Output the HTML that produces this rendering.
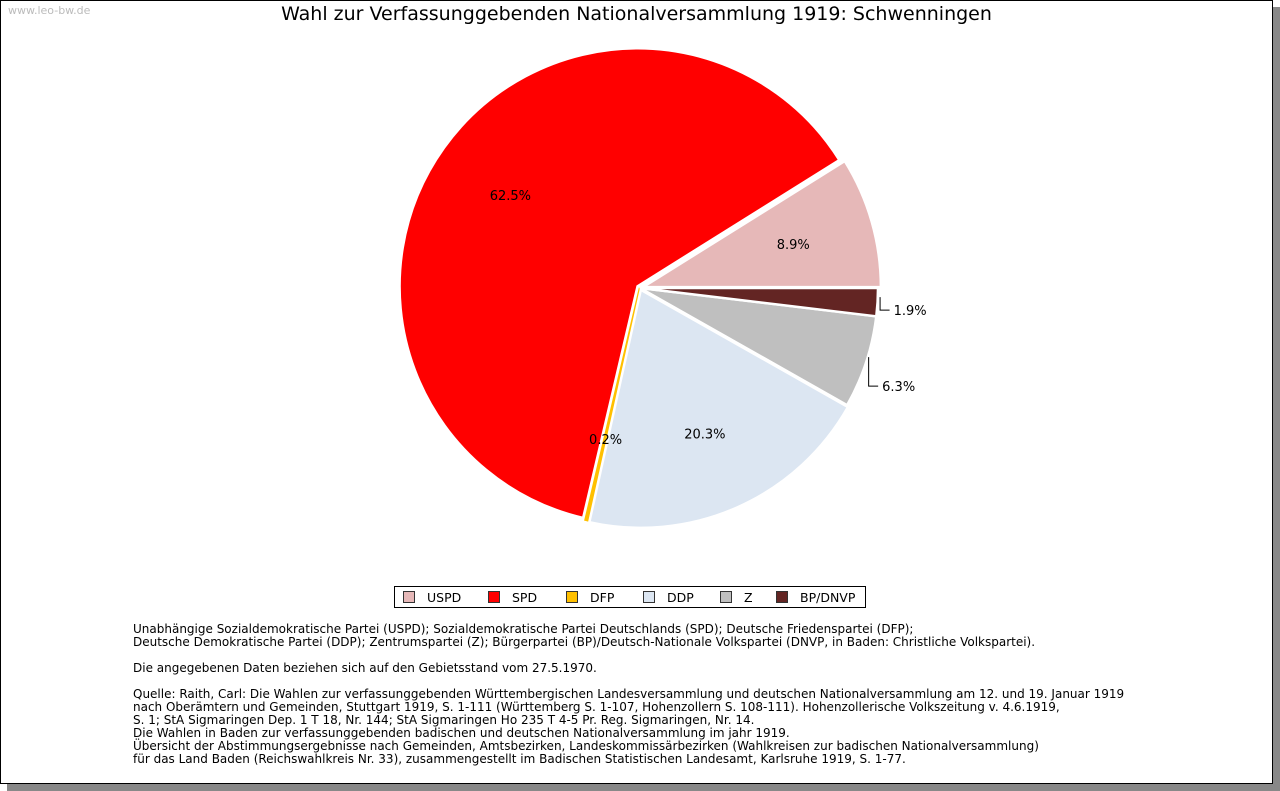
<!DOCTYPE html>
<html><head><meta charset="utf-8"><style>
body{margin:0;width:1280px;height:791px;background:#fff;font-family:"DejaVu Sans","Liberation Sans",sans-serif;position:relative;overflow:hidden}
#frame{position:absolute;left:0;top:0;width:1271px;height:782px;border:1px solid #000;background:#fff;box-shadow:7px 7px 0 #888}
#wm{position:absolute;left:8px;top:4px;font-size:11px;color:#bbb}
#title{position:absolute;left:0;width:1273px;top:3px;text-align:center;font-size:19px;color:#000}
#legend{position:absolute;left:394px;top:586px;width:470px;height:20px;border:1px solid #000;font-size:12.5px}
.li{position:absolute;top:3px;white-space:nowrap}
.sw{display:inline-block;width:10px;height:10px;border:1px solid #333;vertical-align:-1px;margin-right:12px}
#notes{position:absolute;left:133px;top:623px;font-size:12px;line-height:13px;color:#000;white-space:pre}
</style></head><body>
<div id="frame"></div>
<div id="wm">www.leo-bw.de</div>
<div id="title">Wahl zur Verfassunggebenden Nationalversammlung 1919: Schwenningen</div>
<svg id="pie" width="1280" height="791" style="position:absolute;left:0;top:0"></svg>
<div id="legend"></div>
<div id="notes">Unabhängige Sozialdemokratische Partei (USPD); Sozialdemokratische Partei Deutschlands (SPD); Deutsche Friedenspartei (DFP);
Deutsche Demokratische Partei (DDP); Zentrumspartei (Z); Bürgerpartei (BP)/Deutsch-Nationale Volkspartei (DNVP, in Baden: Christliche Volkspartei).

Die angegebenen Daten beziehen sich auf den Gebietsstand vom 27.5.1970.

Quelle: Raith, Carl: Die Wahlen zur verfassunggebenden Württembergischen Landesversammlung und deutschen Nationalversammlung am 12. und 19. Januar 1919
nach Oberämtern und Gemeinden, Stuttgart 1919, S. 1-111 (Württemberg S. 1-107, Hohenzollern S. 108-111). Hohenzollerische Volkszeitung v. 4.6.1919,
S. 1; StA Sigmaringen Dep. 1 T 18, Nr. 144; StA Sigmaringen Ho 235 T 4-5 Pr. Reg. Sigmaringen, Nr. 14.
Die Wahlen in Baden zur verfassunggebenden badischen und deutschen Nationalversammlung im jahr 1919.
Übersicht der Abstimmungsergebnisse nach Gemeinden, Amtsbezirken, Landeskommissärbezirken (Wahlkreisen zur badischen Nationalversammlung)
für das Land Baden (Reichswahlkreis Nr. 33), zusammengestellt im Badischen Statistischen Landesamt, Karlsruhe 1919, S. 1-77.</div>
<script>
const categories=["USPD","SPD","DFP","DDP","Z","BP/DNVP"];
const values=[8.9,62.5,0.2,20.3,6.3,1.9];
const colors=["#e6b8b8","#ff0000","#ffc000","#dce6f2","#bfbfbf","#632523"];
const explode=[3,3,0,2,0,0];
const leaderDrop=[0,0,0,0,24,8];
const svg=document.getElementById('pie');const NS="http://www.w3.org/2000/svg";
const cx=640,cy=288,R=238;
const total=values.reduce((a,b)=>a+b,0);
let a0=0;const labels=[];
values.forEach((v,i)=>{
 const a1=a0+v/total*2*Math.PI;const mid=(a0+a1)/2;
 const ox=cx+explode[i]*Math.cos(mid),oy=cy-explode[i]*Math.sin(mid);
 const x0=ox+R*Math.cos(a0),y0=oy-R*Math.sin(a0),x1=ox+R*Math.cos(a1),y1=oy-R*Math.sin(a1);
 const p=document.createElementNS(NS,'path');
 p.setAttribute('d',`M${ox},${oy}L${x0},${y0}A${R},${R} 0 ${a1-a0>Math.PI?1:0} 0 ${x1},${y1}Z`);
 p.setAttribute('fill',colors[i]);
 if(v>=1){p.setAttribute('stroke','#fff');p.setAttribute('stroke-width','2.5');}
 else{p.setAttribute('stroke',colors[i]);p.setAttribute('stroke-width','2.5');}
 
 
 svg.appendChild(p);
 labels.push({i,mid});
 a0=a1;
});
labels.forEach(({i,mid})=>{
 const t=document.createElementNS(NS,'text');t.setAttribute('font-size','13');t.setAttribute('font-family','DejaVu Sans, sans-serif');
 const lab=values[i].toFixed(1)+'%';
 if(values[i]<7&&values[i]>=1){
  const ex=cx+R*Math.cos(mid)+2,ey=cy-R*Math.sin(mid);
  const d=leaderDrop[i];
  const l=document.createElementNS(NS,'path');
  l.setAttribute('d',`M${ex+0.5},${ey-5}V${ey+d}H${ex+10}`);l.setAttribute('stroke','#000');l.setAttribute('fill','none');
  
  
  svg.appendChild(l);
  t.setAttribute('x',ex+14);t.setAttribute('y',ey+d+5);
 } else {
  const r2=values[i]<1?R*0.65:R*0.67;
  t.setAttribute('x',cx+r2*Math.cos(mid));t.setAttribute('y',cy-r2*Math.sin(mid)+5);t.setAttribute('text-anchor','middle');
 }
 t.textContent=lab;
 
 
 svg.appendChild(t);
});
const lg=document.getElementById('legend');
const legendX=[8,93,171,248,325,381];
categories.forEach((c,i)=>{
 const d=document.createElement('div');d.className='li';d.style.left=legendX[i]+'px';
 d.innerHTML=`<span class="sw" style="background:${colors[i]}"></span>${c}`;
 
 
 lg.appendChild(d);
});
</script>
</body></html>
